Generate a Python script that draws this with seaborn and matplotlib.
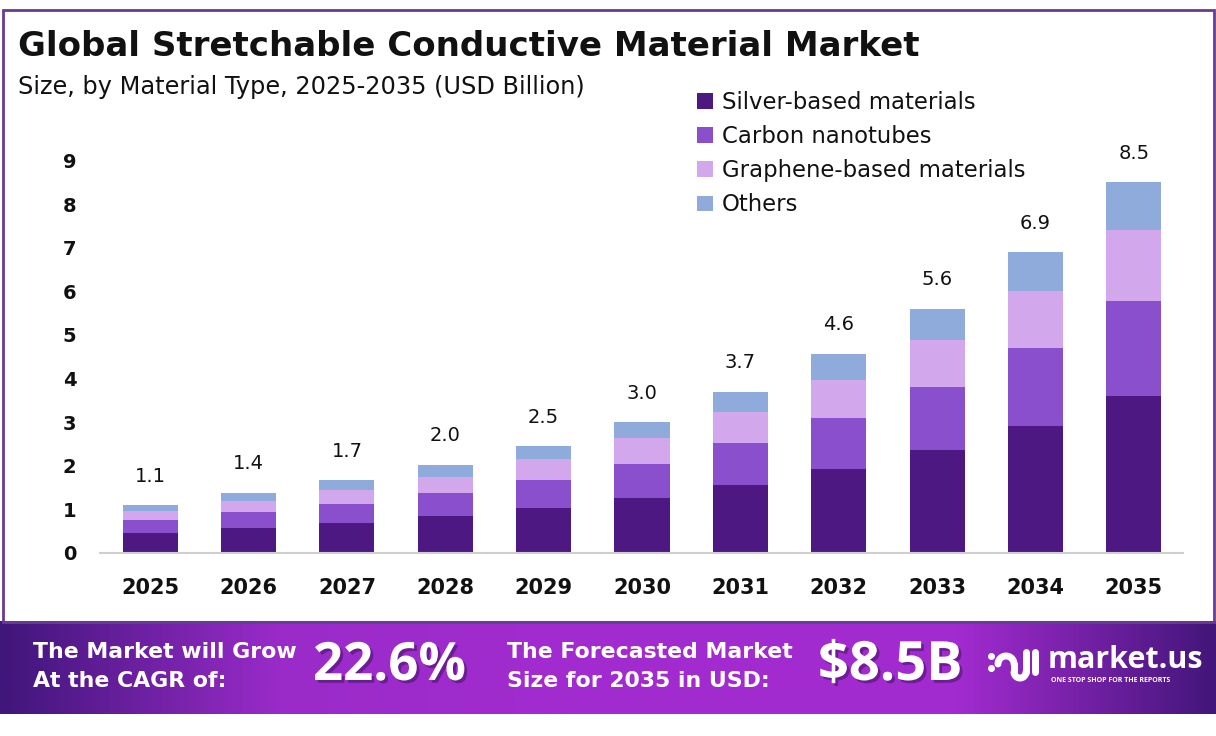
import numpy as np
import pandas as pd
import seaborn as sns
import matplotlib
matplotlib.use("Agg")
from matplotlib import pyplot as plt
from matplotlib.colors import LinearSegmentedColormap
from matplotlib.patches import Rectangle
import matplotlib.patheffects as pe

# data (USD Billion)
years = [2025, 2026, 2027, 2028, 2029, 2030, 2031, 2032, 2033, 2034, 2035]
silver = [0.46, 0.58, 0.69, 0.85, 1.03, 1.26, 1.56, 1.93, 2.36, 2.91, 3.60]
carbon = [0.30, 0.36, 0.43, 0.53, 0.64, 0.78, 0.96, 1.17, 1.45, 1.79, 2.18]
graphene = [0.20, 0.26, 0.32, 0.36, 0.49, 0.60, 0.71, 0.87, 1.08, 1.31, 1.63]
others = [0.14, 0.18, 0.23, 0.28, 0.29, 0.36, 0.47, 0.60, 0.71, 0.89, 1.09]
total_labels = ["1.1", "1.4", "1.7", "2.0", "2.5", "3.0", "3.7", "4.6", "5.6", "6.9", "8.5"]

segments = ["Silver-based materials", "Carbon nanotubes", "Graphene-based materials", "Others"]
colors = ["#4e1882", "#8a4fcc", "#d3a7ec", "#8eabdc"]

df = pd.DataFrame({
    "year": [str(y) for y in years],
    segments[0]: silver,
    segments[1]: carbon,
    segments[2]: graphene,
    segments[3]: others,
})
cum = df[segments].cumsum(axis=1)
cum["year"] = df["year"]

sns.set_theme(style="white")
plt.rcParams["font.family"] = ["DejaVu Sans"]
NUM_FONT = ["Open Sans", "DejaVu Sans"]

W, H = 1216, 736
fig = plt.figure(figsize=(W / 100, H / 100), dpi=100)

# background layer: frame + banner
bg = fig.add_axes([0, 0, 1, 1], zorder=0)
banner_cmap = LinearSegmentedColormap.from_list(
    "banner",
    [(0.0, "#40167a"), (0.23, "#9a2bc9"), (0.5, "#a32bd0"), (0.79, "#a22bcf"), (1.0, "#43167a")],
)
bg.imshow(np.linspace(0, 1, 512)[None, :], cmap=banner_cmap, extent=(0, W, 714, 621), aspect="auto")
bg.add_patch(Rectangle((2.5, 10), W - 5, 612, fill=False, ec="#6b3b8f", lw=2))
bg.set_xlim(0, W)
bg.set_ylim(H, 0)
bg.axis("off")

# logo glyph (rough)
lk = dict(color="white", lw=5, solid_capstyle="round")
bg.plot([991], [656], "o", color="white", ms=4)
bg.plot([991], [668], "o", color="white", ms=4)
t = np.linspace(np.pi, 0, 30)
bg.plot(1006 + 8 * np.cos(t), 664 - 8 * np.sin(t), **lk)
bg.plot([1014, 1014], [664, 672], **lk)
bg.plot(1020 + 6 * np.cos(t), 672 + 6 * np.sin(t), **lk)
bg.plot([1026, 1026], [652, 672], **lk)
bg.plot([1035, 1035], [652, 672], **lk)

# main chart
ax = fig.add_axes([100 / W, 183 / H, 1083 / W, 423 / H], zorder=2)
ax.patch.set_alpha(0)
for seg, col in reversed(list(zip(segments, colors))):
    sns.barplot(data=cum, x="year", y=seg, color=col, saturation=1, width=0.56,
                linewidth=0, label=seg, ax=ax)

tops = cum[segments[-1]].to_numpy()
for i, lab in enumerate(total_labels):
    ax.annotate(lab, (i, tops[i]), xytext=(0, 14), textcoords="offset points",
                ha="center", va="bottom", fontsize=14, color="#111111")

ax.set_xlim(-0.51, 10.5)
ax.set_ylim(0, 9.7)
ax.set_yticks(range(0, 10))
ax.set_xlabel("")
ax.set_ylabel("")
for s in ["left", "right", "top"]:
    ax.spines[s].set_visible(False)
ax.spines["bottom"].set_color("#cfcfcf")
ax.spines["bottom"].set_linewidth(1.5)
ax.tick_params(axis="y", length=0, pad=17, labelsize=14)
ax.tick_params(axis="x", length=0, pad=18, labelsize=15)
for lab in ax.get_xticklabels() + ax.get_yticklabels():
    lab.set_fontweight("bold")
    lab.set_color("#111111")

handles, labels = ax.get_legend_handles_labels()
order = [labels.index(s) for s in segments]
leg = ax.legend([handles[i] for i in order], segments, loc="upper left",
                bbox_to_anchor=(697 / W, 1 - 91 / H), bbox_transform=fig.transFigure,
                frameon=False, fontsize=16.4, handlelength=0.7, handleheight=0.7,
                handletextpad=0.4, labelspacing=0.49, borderpad=0, borderaxespad=0)
for txt in leg.get_texts():
    txt.set_color("#111111")

# titles
fig.text(18 / W, 1 - 46 / H, "Global Stretchable Conductive Material Market",
         fontsize=24.5, fontweight="bold", color="#111111", va="center")
fig.text(18 / W, 1 - 87 / H, "Size, by Material Type, 2025-2035 (USD Billion)",
         fontsize=17.3, color="#111111", va="center")

# banner texts
shadow = [pe.withSimplePatchShadow(offset=(2, -2), shadow_rgbFace="#3a0f5c", alpha=0.5)]
bk = dict(color="white", fontweight="bold", va="center")
fig.text(33 / W, 1 - 652 / H, "The Market will Grow", fontsize=15.8, **bk)
fig.text(33 / W, 1 - 681 / H, "At the CAGR of:", fontsize=15.8, **bk)
fig.text(313 / W, 1 - 666 / H, "22.6%", fontsize=38, family=NUM_FONT, path_effects=shadow, **bk)
fig.text(507 / W, 1 - 652 / H, "The Forecasted Market", fontsize=15.8, **bk)
fig.text(507 / W, 1 - 681 / H, "Size for 2035 in USD:", fontsize=15.8, **bk)
fig.text(818 / W, 1 - 666 / H, "$8.5B", fontsize=39, family=NUM_FONT, path_effects=shadow, **bk)
fig.text(1048 / W, 1 - 660 / H, "market.us", fontsize=22, family=NUM_FONT, **bk)
fig.text(1051 / W, 1 - 680 / H, "ONE STOP SHOP FOR THE REPORTS", fontsize=5, family=NUM_FONT, **bk)

fig.savefig("out.png", dpi=100)
